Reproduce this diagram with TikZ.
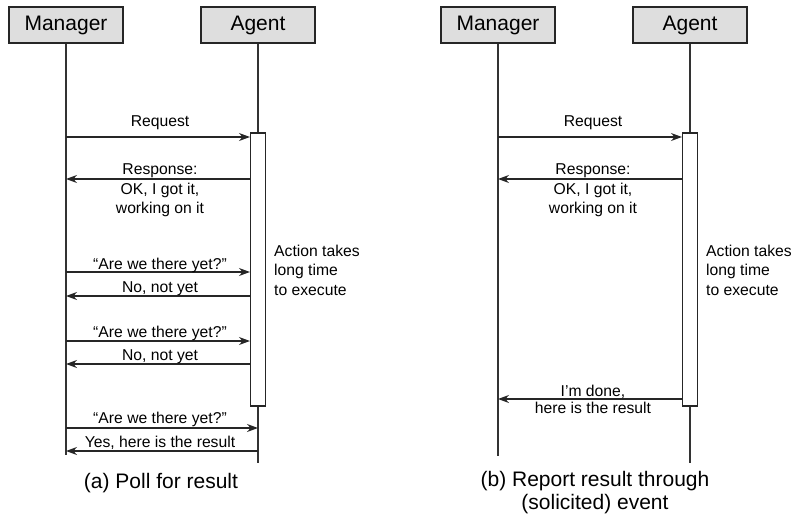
\documentclass[tikz,border=0pt]{standalone}
\usepackage{fontspec}
\setmainfont{Liberation Sans}
\usetikzlibrary{arrows.meta}
\begin{document}
\begin{tikzpicture}[x=1pt,y=-1pt,
  actor/.style={draw=black!85, line width=1.2pt, fill=black!13, minimum width=114pt, minimum height=36pt, inner sep=0pt, font=\fontsize{21}{24}\selectfont},
  life/.style={draw=black!80, line width=1.1pt},
  actbox/.style={draw=black!85, line width=1.1pt, fill=white, minimum width=15pt, minimum height=273pt, inner sep=0pt},
  msg/.style={draw=black!85, line width=1.1pt, -{Stealth[length=11pt,width=8pt]}},
  lbl/.style={anchor=base, inner sep=0pt, font=\fontsize{15.7}{19.5}\selectfont},
  note/.style={anchor=base west, inner sep=0pt, font=\fontsize{15.7}{19.5}\selectfont},
  captext/.style={anchor=base, inner sep=0pt, font=\fontsize{21}{24}\selectfont}
]
\useasboundingbox (0,0) rectangle (792,514);

% ---------------- (a) ----------------
\node[actor] (mL) at (66,25) {Manager};
\node[actor] (aL) at (258,25) {Agent};
\coordinate (mLend) at (66,455);
\coordinate (aLend) at (258,463);
\draw[life] (mL.south) -- (mLend);
\draw[life] (aL.south) -- (aLend);
\node[actbox] (actL) at (258,269.5) {};

\coordinate (lq0) at (66,137);
\coordinate (lr0) at (66,179);
\coordinate (lq1) at (66,272);
\coordinate (lr1) at (66,296);
\coordinate (lq2) at (66,341);
\coordinate (lr2) at (66,364);
\coordinate (lq3) at (66,428);
\coordinate (lr3) at (66,451);

\draw[msg] (lq0) -- (lq0 -| actL.west);
\draw[msg] (lr0 -| actL.west) -- (lr0);
\draw[msg] (lq1) -- (lq1 -| actL.west);
\draw[msg] (lr1 -| actL.west) -- (lr1);
\draw[msg] (lq2) -- (lq2 -| actL.west);
\draw[msg] (lr2 -| actL.west) -- (lr2);
\draw[msg] (lq3) -- (lq3 -| aLend);
\draw[msg] (lr3 -| aLend) -- (lr3);

\node[lbl] (tl0) at (160,126.5) {Request};
\node[lbl] (tl1) at (160,174) {Response:};
\node[lbl] (tl2) at (160,194) {OK, I got it,};
\node[lbl] (tl3) at (160,213.5) {working on it};
\node[lbl] (tl4) at (160,269.5) {“Are we there yet?”};
\node[lbl] (tl5) at (160,292.5) {No, not yet};
\node[lbl] (tl6) at (160,337) {“Are we there yet?”};
\node[lbl] (tl7) at (160,360) {No, not yet};
\node[lbl] (tl8) at (160,423) {“Are we there yet?”};
\node[lbl] (tl9) at (160,447) {Yes, here is the result};

\node[note] (nl1) at (274,256) {Action takes};
\node[note] (nl2) at (274,275.5) {long time};
\node[note] (nl3) at (274,295) {to execute};

\node[captext] (capa) at (161,488) {(a) Poll for result};

% ---------------- (b) ----------------
\node[actor] (mR) at (498,25) {Manager};
\node[actor] (aR) at (690,25) {Agent};
\coordinate (mRend) at (498,456);
\coordinate (aRend) at (690,463);
\draw[life] (mR.south) -- (mRend);
\draw[life] (aR.south) -- (aRend);
\node[actbox] (actR) at (690,269.5) {};

\coordinate (rq0) at (498,137);
\coordinate (rr0) at (498,179);
\coordinate (rr1) at (498,399);

\draw[msg] (rq0) -- (rq0 -| actR.west);
\draw[msg] (rr0 -| actR.west) -- (rr0);
\draw[msg] (rr1 -| actR.west) -- (rr1);

\node[lbl] (tr0) at (593,126.5) {Request};
\node[lbl] (tr1) at (593,174) {Response:};
\node[lbl] (tr2) at (593,194) {OK, I got it,};
\node[lbl] (tr3) at (593,213.5) {working on it};
\node[lbl] (tr4) at (593,396.5) {I’m done,};
\node[lbl] (tr5) at (593,413.5) {here is the result};

\node[note] (nr1) at (706,256) {Action takes};
\node[note] (nr2) at (706,275.5) {long time};
\node[note] (nr3) at (706,295) {to execute};

\node[captext] (capb1) at (595,486.5) {(b) Report result through};
\node[captext] (capb2) at (595,509.5) {(solicited) event};
\end{tikzpicture}
\end{document}
